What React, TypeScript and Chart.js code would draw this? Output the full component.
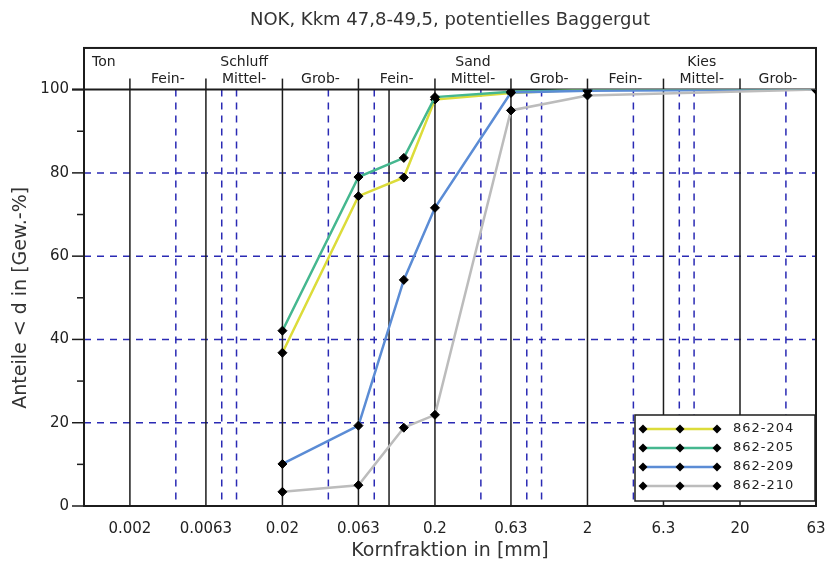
import { useEffect, useRef } from "react";
import { Chart, registerables } from "chart.js";

Chart.register(...registerables);

// Sieve sizes in mm and the passing percentages for each sample
const sieveSizes = [0.02, 0.063, 0.125, 0.2, 0.63, 2, 63];
const sampleNames = ["862-204", "862-205", "862-209", "862-210"];
const passing204 = [36.8, 74.4, 78.9, 97.6, 99.2, 100, 100];
const passing205 = [42.1, 79.0, 83.6, 98.2, 99.5, 100, 100];
const passing209 = [10.1, 19.3, 54.3, 71.6, 99.3, 99.7, 100];
const passing210 = [3.4, 5.0, 18.8, 21.9, 95.0, 98.6, 100];
const sampleColors = ["#dcdc3a", "#45b78f", "#5b8cd5", "#bcbcbc"];

// Axis ticks and grid lines
const xTickValues = [0.002, 0.0063, 0.02, 0.063, 0.2, 0.63, 2, 6.3, 20, 63];
const xTickLabels = ["0.002", "0.0063", "0.02", "0.063", "0.2", "0.63", "2", "6.3", "20", "63"];
const solidGridX = [0.002, 0.0063, 0.02, 0.063, 0.1, 0.2, 0.63, 2, 6.3, 20, 63];
const dashedGridX = [0.004, 0.008, 0.01, 0.04, 0.08, 0.4, 0.8, 1, 4, 8, 10, 40];
const yTickValues = [0, 20, 40, 60, 80, 100];
const dashedGridY = [20, 40, 60, 80];

// Grain-size classes shown in the header band
const classBounds = [0.002, 0.0063, 0.02, 0.063, 0.2, 0.63, 2, 6.3, 20, 63];
const subClassNames = ["Fein-", "Mittel-", "Grob-", "Fein-", "Mittel-", "Grob-", "Fein-", "Mittel-", "Grob-"];
const mainClassNames = ["Schluff", "Sand", "Kies"];
const mainClassColumns = [1, 4, 7];
const clayName = "Ton";

const FONT = "'DejaVu Sans', Verdana, sans-serif";
const INK = "#1c1c1c";
const GRID_BLUE = "#2a2ab4";

function diamond(ctx: CanvasRenderingContext2D, cx: number, cy: number, r: number) {
  ctx.beginPath();
  ctx.moveTo(cx, cy - r);
  ctx.lineTo(cx + r, cy);
  ctx.lineTo(cx, cy + r);
  ctx.lineTo(cx - r, cy);
  ctx.closePath();
  ctx.fill();
}

const sieveFrame = {
  id: "sieveFrame",
  beforeDatasetsDraw(chart: any) {
    const { ctx, chartArea: a, scales } = chart;
    const x = scales.x;
    const y = scales.y;
    const headTop = y.getPixelForValue(110);
    const top100 = y.getPixelForValue(100);
    ctx.save();

    // dashed blue grid
    ctx.strokeStyle = GRID_BLUE;
    ctx.lineWidth = 1.5;
    ctx.setLineDash([7, 6]);
    for (const v of dashedGridX) {
      const px = x.getPixelForValue(v);
      ctx.beginPath();
      ctx.moveTo(px, top100);
      ctx.lineTo(px, a.bottom);
      ctx.stroke();
    }
    for (const v of dashedGridY) {
      const py = y.getPixelForValue(v);
      ctx.beginPath();
      ctx.moveTo(a.left, py);
      ctx.lineTo(a.right, py);
      ctx.stroke();
    }
    ctx.setLineDash([]);

    // solid black verticals at class limits
    ctx.strokeStyle = INK;
    for (const v of solidGridX) {
      const px = x.getPixelForValue(v);
      ctx.beginPath();
      ctx.moveTo(px, top100);
      ctx.lineTo(px, a.bottom);
      ctx.stroke();
    }

    // outer frame, header band and 100 % line
    ctx.lineWidth = 2;
    ctx.strokeRect(a.left, headTop, a.right - a.left, a.bottom - headTop);
    ctx.beginPath();
    ctx.moveTo(a.left - 12, top100);
    ctx.lineTo(a.right, top100);
    ctx.stroke();

    // y tick marks (major every 20, minor every 10)
    ctx.lineWidth = 1.5;
    for (let v = 0; v <= 100; v += 10) {
      const py = y.getPixelForValue(v);
      const len = v % 20 === 0 ? 12 : 7;
      ctx.beginPath();
      ctx.moveTo(a.left - len, py);
      ctx.lineTo(a.left, py);
      ctx.stroke();
    }

    // header ticks at class limits
    for (const v of classBounds.slice(0, -1)) {
      const px = x.getPixelForValue(v);
      ctx.beginPath();
      ctx.moveTo(px, top100);
      ctx.lineTo(px, top100 - 11);
      ctx.stroke();
    }

    // header labels
    ctx.fillStyle = "#222";
    ctx.font = `14px ${FONT}`;
    ctx.textBaseline = "middle";
    const row1 = headTop + 14;
    const row2 = top100 - 10;
    ctx.textAlign = "left";
    ctx.fillText(clayName, a.left + 8, row1);
    ctx.textAlign = "center";
    subClassNames.forEach((name, i) => {
      const cx = (x.getPixelForValue(classBounds[i]) + x.getPixelForValue(classBounds[i + 1])) / 2;
      ctx.fillText(name, cx, row2);
    });
    mainClassNames.forEach((name, k) => {
      const i = mainClassColumns[k];
      const cx = (x.getPixelForValue(classBounds[i]) + x.getPixelForValue(classBounds[i + 1])) / 2;
      ctx.fillText(name, cx, row1);
    });
    ctx.restore();
  },
  afterDatasetsDraw(chart: any) {
    const { ctx, chartArea: a } = chart;
    const bw = 180;
    const bh = 86;
    const bx = a.right - 1 - bw;
    const by = a.bottom - 5 - bh;
    ctx.save();
    ctx.fillStyle = "#fff";
    ctx.fillRect(bx, by, bw, bh);
    ctx.strokeStyle = INK;
    ctx.lineWidth = 1.5;
    ctx.strokeRect(bx, by, bw, bh);
    ctx.font = `13px ${FONT}`;
    (ctx as any).letterSpacing = "1px";
    ctx.textBaseline = "middle";
    ctx.textAlign = "left";
    chart.data.datasets.forEach((ds: any, i: number) => {
      const ry = by + 14 + i * 19;
      ctx.strokeStyle = ds.borderColor;
      ctx.lineWidth = 2.5;
      ctx.beginPath();
      ctx.moveTo(bx + 8, ry);
      ctx.lineTo(bx + 82, ry);
      ctx.stroke();
      ctx.fillStyle = "#000";
      for (const mx of [bx + 8, bx + 45, bx + 82]) diamond(ctx, mx, ry, 4.5);
      ctx.fillStyle = "#222";
      ctx.fillText(ds.label, bx + 98, ry);
    });
    ctx.restore();
  },
};

export default function App() {
  const ref = useRef<HTMLCanvasElement | null>(null);

  useEffect(() => {
    if (!ref.current) return;
    const series = [passing204, passing205, passing209, passing210];
    const chart = new Chart(ref.current, {
      type: "line",
      data: {
        datasets: sampleNames.map((name, i) => ({
          label: name,
          data: sieveSizes.map((s, j) => ({ x: s, y: series[i][j] })),
          borderColor: sampleColors[i],
          backgroundColor: "#000",
          borderWidth: 2.5,
          tension: 0,
          pointStyle: "rectRot",
          pointRadius: 4.5,
          pointBackgroundColor: "#000",
          pointBorderColor: "#000",
          pointBorderWidth: 1,
          order: sampleNames.length - i,
        })),
      },
      options: {
        animation: false,
        responsive: true,
        maintainAspectRatio: false,
        layout: { padding: 0 },
        font: { family: FONT },
        plugins: {
          legend: { display: false },
          tooltip: { enabled: false },
          title: {
            display: true,
            fullSize: false,
            text: "NOK, Kkm 47,8-49,5, potentielles Baggergut",
            color: "#333",
            font: { family: FONT, size: 18, weight: "normal" },
            padding: { top: 10, bottom: 58 },
          },
        },
        scales: {
          x: {
            type: "logarithmic",
            min: 0.001,
            max: 63,
            afterBuildTicks: (s: any) => {
              s.ticks = xTickValues.map((v) => ({ value: v }));
            },
            afterFit: (s: any) => {
              s.height = 62;
              s.paddingLeft = 0;
              s.paddingRight = 10;
            },
            ticks: {
              autoSkip: false,
              maxRotation: 0,
              padding: 14,
              color: "#222",
              font: { family: FONT, size: 15 },
              callback: (_v: any, i: number) => xTickLabels[i],
            },
            grid: { display: false, drawTicks: false },
            border: { display: false },
            title: {
              display: true,
              text: "Kornfraktion in [mm]",
              color: "#333",
              font: { family: FONT, size: 19 },
              padding: { top: 6, bottom: 6 },
            },
          },
          y: {
            min: 0,
            max: 100,
            afterBuildTicks: (s: any) => {
              s.ticks = yTickValues.map((v) => ({ value: v }));
            },
            afterFit: (s: any) => {
              s.width = 84;
            },
            ticks: {
              padding: 15,
              color: "#222",
              font: { family: FONT, size: 15 },
            },
            grid: { display: false, drawTicks: false },
            border: { display: false },
            title: {
              display: true,
              text: "Anteile < d in [Gew.-%]",
              color: "#333",
              font: { family: FONT, size: 19 },
              padding: { top: 10, bottom: 10 },
            },
          },
        },
      },
      plugins: [sieveFrame],
    } as any);
    return () => chart.destroy();
  }, []);

  return (
    <div style={{ position: "fixed", left: 0, top: 0, width: 826, height: 568, background: "#fff" }}>
      <canvas ref={ref} />
    </div>
  );
}
